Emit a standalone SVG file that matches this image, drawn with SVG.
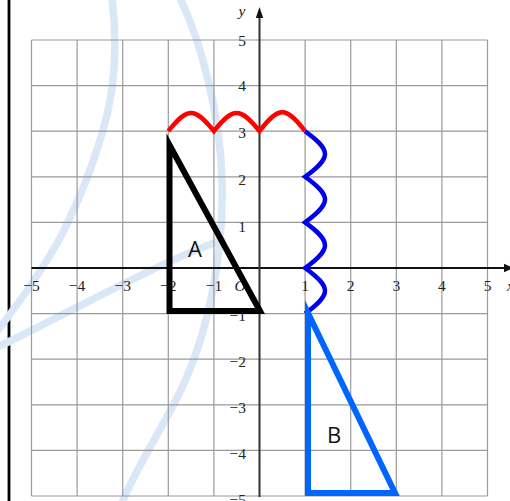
<svg xmlns="http://www.w3.org/2000/svg" width="510" height="501" viewBox="0 0 510 501">
<style>
.grid line{stroke:#9a9a9a;stroke-width:1.2}
.wm{fill:none;stroke:#dae7f6;stroke-width:7.5;stroke-linecap:round}
.tick{font-family:"Liberation Serif",serif;font-size:15.5px;fill:#222}
.xt{text-anchor:middle}
.yt{text-anchor:end}
.it{font-style:italic}
.lbl{font-family:"Open Sans","DejaVu Sans",sans-serif;font-size:22px;fill:#111}
.tri{fill:none;stroke-width:6;stroke-linejoin:miter;stroke-miterlimit:10}
.wave{fill:none;stroke-width:4.5;stroke-linecap:butt;stroke-linejoin:miter}
</style>
<rect width="510" height="501" fill="#fff"/>
<line x1="9" y1="0" x2="9" y2="501" stroke="#000" stroke-width="2.8"/>
<g id="watermark">
<path class="wm" d="M112,-2 C116,30 116,70 110,100 C104,135 85,190 60,238 C45,265 25,295 -2,330"/>
<path class="wm" d="M-2,347 C70,312 160,262 222,240"/>
<path class="wm" d="M180,-2 C200,40 220,110 222,180 C224,250 210,330 180,392 C160,432 135,470 122,503"/>
</g>
<g class="grid">
<line x1="31.5" y1="40" x2="31.5" y2="496"/>
<line x1="77.1" y1="40" x2="77.1" y2="496"/>
<line x1="122.7" y1="40" x2="122.7" y2="496"/>
<line x1="168.3" y1="40" x2="168.3" y2="496"/>
<line x1="213.9" y1="40" x2="213.9" y2="496"/>
<line x1="305.1" y1="40" x2="305.1" y2="496"/>
<line x1="350.7" y1="40" x2="350.7" y2="496"/>
<line x1="396.3" y1="40" x2="396.3" y2="496"/>
<line x1="441.9" y1="40" x2="441.9" y2="496"/>
<line x1="487.5" y1="40" x2="487.5" y2="496"/>
<line x1="31.5" y1="40" x2="487.5" y2="40"/>
<line x1="31.5" y1="85.6" x2="487.5" y2="85.6"/>
<line x1="31.5" y1="131.2" x2="487.5" y2="131.2"/>
<line x1="31.5" y1="176.8" x2="487.5" y2="176.8"/>
<line x1="31.5" y1="222.4" x2="487.5" y2="222.4"/>
<line x1="31.5" y1="313.6" x2="487.5" y2="313.6"/>
<line x1="31.5" y1="359.2" x2="487.5" y2="359.2"/>
<line x1="31.5" y1="404.8" x2="487.5" y2="404.8"/>
<line x1="31.5" y1="450.4" x2="487.5" y2="450.4"/>
<line x1="31.5" y1="496" x2="487.5" y2="496"/>
</g>
<g id="axes">
<line x1="31.5" y1="268" x2="505" y2="268" stroke="#111" stroke-width="2"/>
<polygon points="513,268 504,263.8 504,272.2" fill="#111"/>
<line x1="259.5" y1="17" x2="259.5" y2="497" stroke="#333" stroke-width="2"/>
<polygon points="259.5,7 255.8,18 263.2,18" fill="#111"/>
</g>
<g id="tick-labels" class="tick">
<text class="xt" x="31.5" y="291">−5</text>
<text class="xt" x="77.1" y="291">−4</text>
<text class="xt" x="122.7" y="291">−3</text>
<text class="xt" x="168.3" y="291">−2</text>
<text class="xt" x="213.9" y="291">−1</text>
<text class="xt it" x="240" y="291">O</text>
<text class="xt" x="305.1" y="291">1</text>
<text class="xt" x="350.7" y="291">2</text>
<text class="xt" x="396.3" y="291">3</text>
<text class="xt" x="441.9" y="291">4</text>
<text class="xt" x="487.5" y="291">5</text>
<text class="it" x="507" y="291">x</text>
<text class="xt it" x="242" y="16">y</text>
<text class="yt" x="246" y="46">5</text>
<text class="yt" x="246" y="91">4</text>
<text class="yt" x="246" y="137.5">3</text>
<text class="yt" x="246" y="185">2</text>
<text class="yt" x="246" y="231.5">1</text>
<text class="yt" x="246" y="321">−1</text>
<text class="yt" x="246" y="366.7">−2</text>
<text class="yt" x="246" y="413">−3</text>
<text class="yt" x="246" y="459">−4</text>
<text class="yt" x="246" y="505">−5</text>
</g>
<g id="connectors">
<path id="red-path" class="wave" stroke="#ff0000" d="M168.3,131.2 C187.6,107 194.5,107 213.9,131.2 C233.2,107 240.1,107 259.5,131.2 C278.8,106 285.7,106 305.1,131.2"/>
<path id="blue-path" class="wave" stroke="#0000ee" d="M305.1,131.2 C331.6,150.5 331.6,157.4 305.1,176.8 C331.6,196.1 331.6,203 305.1,222.4 C331.6,241.7 331.6,248.6 305.1,268 C331.6,287.3 331.6,294.2 305.1,313.6"/>
</g>
<g id="triangle-A">
<polygon class="tri" stroke="#000" points="169.5,145 169.5,311 260,311"/>
<text class="lbl" x="188" y="257">A</text>
</g>
<g id="triangle-B">
<polygon class="tri" stroke="#0066ff" points="308,313 308,493 395,493"/>
<text class="lbl" x="327" y="443">B</text>
</g>
</svg>
